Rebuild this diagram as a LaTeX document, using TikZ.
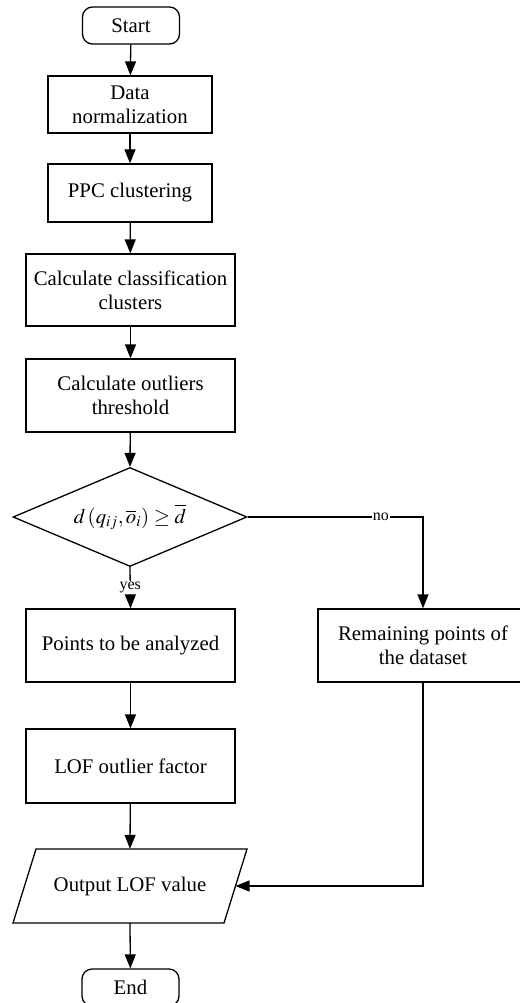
\documentclass[tikz,border=0pt]{standalone}
\usepackage{mathptmx}
\usepackage{fontspec}
\setmainfont{Liberation Serif}
\usetikzlibrary{arrows.meta,shapes.geometric}
\begin{document}
\begin{tikzpicture}[x=1pt,y=-1pt,
  every node/.style={font=\fontsize{20.8}{24}\selectfont, align=center, inner sep=0pt},
  box/.style={draw, line width=1.3pt, rectangle},
  term/.style={draw, line width=1.3pt, rectangle, rounded corners=10pt, minimum width=97pt, minimum height=37pt},
  flow/.style={line width=1.3pt, -{Triangle[width=11pt,length=14pt]}},
  lbl/.style={font=\fontsize{16}{18}\selectfont, fill=white, inner sep=1pt}]
\useasboundingbox (0,0) rectangle (519,1003);
\node[term] (start) at (131,25.5) {Start};
\node[box, minimum width=164pt, minimum height=57pt] (data) at (130,104.5) {Data\\normalization};
\node[box, minimum width=164pt, minimum height=58pt] (ppc) at (130,193) {PPC clustering};
\node[box, minimum width=209pt, minimum height=72pt] (calc) at (130.5,290) {Calculate classification\\clusters};
\node[box, minimum width=209pt, minimum height=73pt] (thr) at (130.5,395.5) {Calculate outliers\\threshold};
\node[draw, line width=1.3pt, diamond, aspect=2.36, minimum width=234pt, minimum height=99pt] (dec) at (130,517) {$d\,(q_{ij},\overline{o}_i)\geq\overline{d}$};
\node[box, minimum width=209pt, minimum height=73pt] (pts) at (130.5,645.5) {Points to be analyzed};
\node[box, minimum width=210pt, minimum height=73pt] (rem) at (423,645.5) {Remaining points of\\the dataset};
\node[box, minimum width=209pt, minimum height=74pt] (lof) at (130.5,766) {LOF outlier factor};
\node[minimum width=211pt, minimum height=74pt] (out) at (130,886) {Output LOF value};
\draw[line width=1.3pt, line join=miter] (36,849) -- (247,849) -- (224,923) -- (13,923) -- cycle;
\coordinate (outR) at (235.5,886);
\node[term] (end) at (130.5,987.5) {End};
\draw[flow] (start) -- (data);
\draw[flow] (data) -- (ppc);
\draw[flow] (ppc) -- (calc);
\draw[flow] (calc) -- (thr);
\draw[flow] (thr) -- (dec.north);
\draw[flow] (dec.south) -- node[lbl] {yes} (pts.north);
\draw[flow] (dec.east) -| node[lbl, pos=0.38] {no} (rem.north);
\draw[flow] (rem.south) |- (outR);
\draw[flow] (lof) -- (out.north);
\draw[flow] (pts) -- (lof);
\draw[flow] (out.south) -- (end);
\end{tikzpicture}
\end{document}
